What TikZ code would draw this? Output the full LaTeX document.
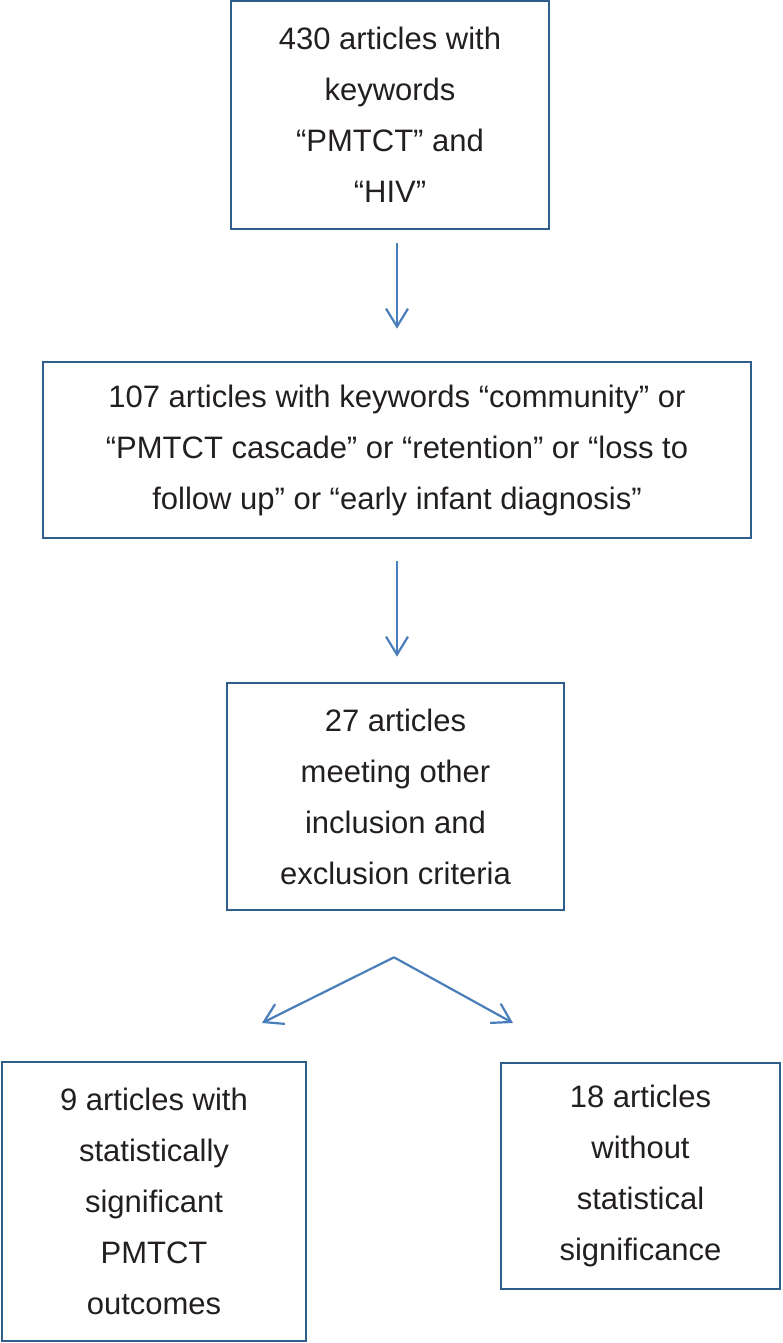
\documentclass[tikz,border=0pt]{standalone}
\usepackage{fontspec}
\setmainfont{Liberation Sans}
\usetikzlibrary{arrows.meta, positioning, calc}

\definecolor{boxblue}{HTML}{2F5D8C}
\definecolor{arrowblue}{HTML}{4A7EBB}
\definecolor{textgrey}{HTML}{231F20}

\tikzset{
  stagebox/.style={draw=boxblue, line width=1.3pt, align=center, inner sep=0pt,
    text=textgrey, font=\fontsize{15.5}{25.5}\selectfont},
  flowarrow/.style={draw=arrowblue, line width=1.1pt, -{Straight Barb[length=9pt, width=11pt]}},
}

\begin{document}
\begin{tikzpicture}[x=0.5pt, y=-0.5pt]
\useasboundingbox (0,0) rectangle (782,1343);

\node[stagebox, minimum width=159pt, minimum height=114pt] (search) at (390,115)
  {430 articles with\\ keywords\\ “PMTCT” and\\ “HIV”};
\node[stagebox, minimum width=354pt, minimum height=88pt] (keywords) at (397,450)
  {107 articles with keywords “community” or\\ “PMTCT cascade” or “retention” or “loss to\\ follow up” or “early infant diagnosis”};
\node[stagebox, minimum width=168.5pt, minimum height=113.5pt] (criteria) at (395.5,796.5)
  {27 articles\\ meeting other\\ inclusion and\\ exclusion criteria};
\node[stagebox, minimum width=152pt, minimum height=139.5pt] (signif) at (154,1201.5)
  {9 articles with\\ statistically\\ significant\\ PMTCT\\ outcomes};
\node[stagebox, minimum width=139.5pt, minimum height=113pt] (nosignif) at (640.5,1176)
  {18 articles\\ without\\ statistical\\ significance};

% arrows
\draw[flowarrow] ($(keywords.north |- search.south)+(0,13)$) -- ($(keywords.north)+(0,-32)$);
\draw[flowarrow] ($(keywords.south)+(0,22)$) -- ($(keywords.south |- criteria.north)+(0,-25)$);

\coordinate (split) at ($(criteria.south)+(-1.5,46)$);
\coordinate (lefttip) at (262,1023);
\coordinate (righttip) at (513,1023);
\draw[flowarrow] (split) -- (lefttip);
\draw[flowarrow] (split) -- (righttip);
\end{tikzpicture}
\end{document}
